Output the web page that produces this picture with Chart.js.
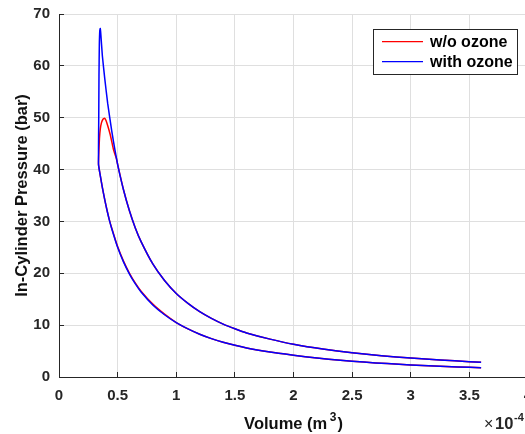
<!DOCTYPE html>
<html>
<head>
<meta charset="utf-8">
<script src="https://cdn.jsdelivr.net/npm/chart.js@4.4.1/dist/chart.umd.min.js"></script>
<style>
html,body{margin:0;padding:0;overflow:hidden;background:#fff;width:525px;height:434px}
#wrap{width:540px;height:434px}
canvas{display:block}
</style>
</head>
<body>
<div id="wrap"><canvas id="c" width="540" height="434"></canvas></div>
<script>
// ---- data (volume in units of 1e-4 m^3, pressure in bar) ----
const seriesNames = ['w/o ozone', 'with ozone'];
const seriesColors = ['#ff0000', '#0000ff'];
const xTickValues = [0, 0.5, 1, 1.5, 2, 2.5, 3, 3.5, 4];
const xTickLabels = ['0', '0.5', '1', '1.5', '2', '2.5', '3', '3.5', '4'];
const yTickValues = [0, 10, 20, 30, 40, 50, 60, 70];
const yTickLabels = ['0', '10', '20', '30', '40', '50', '60', '70'];
const xAxisTitleParts = ['Volume (m', '3', ')'];
const yAxisTitle = 'In-Cylinder Pressure (bar)';
const xExponentParts = ['\u00D7', '10', '-4'];

// w/o ozone (red)
const volWo = [3.6, 3.4, 3.2, 3.0, 2.8, 2.6, 2.4, 2.2, 2.0, 1.8, 1.6, 1.4, 1.3, 1.2, 1.1, 1.0, 0.9, 0.8, 0.7, 0.65, 0.6, 0.55, 0.5, 0.45, 0.43, 0.41, 0.39, 0.37, 0.35, 0.337,
  0.340, 0.345, 0.352, 0.362, 0.375, 0.388, 0.40, 0.415, 0.435, 0.45, 0.463, 0.475, 0.49, 0.5,
  0.55, 0.6, 0.65, 0.7, 0.8, 0.9, 1.0, 1.1, 1.2, 1.3, 1.4, 1.5, 1.6, 1.8, 2.0, 2.25, 2.5, 2.75, 3.0, 3.25, 3.5, 3.6];
const presWo = [1.79, 1.95, 2.13, 2.33, 2.58, 2.87, 3.22, 3.66, 4.2, 4.8, 5.6, 6.7, 7.4, 8.25, 9.28, 10.5, 12.12, 14.05, 16.55, 18.15, 20.05, 22.35, 25.15, 28.7, 30.25, 32.1, 34.2, 36.5, 39.1, 41.0,
  43.5, 46.0, 47.8, 49.0, 49.7, 49.9, 49.5, 48.5, 46.9, 45.4, 44.0, 43.1, 42.1, 41.0,
  36.1, 32.1, 28.8, 26.1, 21.8, 18.6, 16.1, 14.2, 12.6, 11.3, 10.2, 9.3, 8.5, 7.3, 6.3, 5.38, 4.68, 4.12, 3.65, 3.27, 2.96, 2.85];

// with ozone (blue)
const volWith = [3.6, 3.4, 3.2, 3.0, 2.8, 2.6, 2.4, 2.2, 2.0, 1.8, 1.6, 1.4, 1.3, 1.2, 1.1, 1.0, 0.9, 0.8, 0.7, 0.65, 0.6, 0.55, 0.5, 0.45, 0.43, 0.41, 0.39, 0.37, 0.35, 0.337,
  0.339, 0.341, 0.344, 0.348, 0.352, 0.357,
  0.37, 0.39, 0.415, 0.45, 0.5, 0.55, 0.6, 0.65, 0.7, 0.8, 0.9, 1.0, 1.1, 1.2, 1.3, 1.4, 1.5, 1.6, 1.8, 2.0, 2.25, 2.5, 2.75, 3.0, 3.25, 3.5, 3.6];
const presWith = [1.79, 1.95, 2.13, 2.33, 2.58, 2.87, 3.22, 3.66, 4.2, 4.8, 5.6, 6.7, 7.4, 8.25, 9.28, 10.5, 12.0, 13.9, 16.4, 18.0, 19.9, 22.2, 25.0, 28.6, 30.2, 32.1, 34.2, 36.5, 39.1, 41.0,
  50, 58, 64, 66.8, 67.2, 66.0,
  61.9, 57.6, 52.8, 47.4, 41.0, 36.1, 32.1, 28.8, 26.1, 21.8, 18.6, 16.1, 14.2, 12.6, 11.3, 10.2, 9.3, 8.5, 7.3, 6.3, 5.38, 4.68, 4.12, 3.65, 3.27, 2.96, 2.85];

const FONT = '"Liberation Sans", Arial, Helvetica, sans-serif';
const INK = '#262626';

function pts(v, p) { return v.map((x, i) => ({ x: x, y: p[i] })); }
function noPad(s) { s.paddingTop = 0; s.paddingBottom = 0; s.paddingLeft = 0; s.paddingRight = 0; }

const overlay = {
  id: 'overlay',
  afterDraw(chart) {
    const ctx = chart.ctx;
    const xs = chart.scales.x, ys = chart.scales.y;
    const a = chart.chartArea;
    const al = (p) => Math.round(p - 0.5) + 0.5;
    ctx.save();
    // inward tick marks
    ctx.strokeStyle = INK;
    ctx.lineWidth = 1;
    ctx.beginPath();
    xTickValues.forEach(v => {
      const px = al(xs.getPixelForValue(v));
      ctx.moveTo(px, a.bottom); ctx.lineTo(px, a.bottom - 5);
    });
    yTickValues.forEach(v => {
      const py = al(ys.getPixelForValue(v));
      ctx.moveTo(a.left, py); ctx.lineTo(a.left + 5, py);
    });
    ctx.stroke();

    // legend box
    const bx = 373.5, by = 29.5, bw = 144, bh = 45;
    ctx.fillStyle = '#ffffff';
    ctx.fillRect(bx, by, bw, bh);
    ctx.strokeStyle = INK;
    ctx.lineWidth = 1;
    ctx.strokeRect(bx, by, bw, bh);
    const rowY = [41.7, 61.7];
    seriesNames.forEach((name, i) => {
      ctx.strokeStyle = seriesColors[i];
      ctx.lineWidth = 1.3;
      ctx.beginPath();
      ctx.moveTo(382, rowY[i]); ctx.lineTo(423, rowY[i]);
      ctx.stroke();
      ctx.fillStyle = '#000000';
      ctx.font = 'bold 16px ' + FONT;
      ctx.textAlign = 'left';
      ctx.textBaseline = 'middle';
      ctx.fillText(name, 430, rowY[i] + 0.5);
    });

    // x axis title with superscript
    ctx.fillStyle = '#111111';
    ctx.textBaseline = 'alphabetic';
    ctx.textAlign = 'left';
    const fMain = 'bold 16.5px ' + FONT, fSup = 'bold 12px ' + FONT;
    ctx.font = fMain; const w0 = ctx.measureText(xAxisTitleParts[0]).width;
    ctx.font = fSup; const w1 = ctx.measureText(xAxisTitleParts[1]).width;
    ctx.font = fMain; const w2 = ctx.measureText(xAxisTitleParts[2]).width;
    const gap = 2.5;
    const total = w0 + gap + w1 + 1 + w2;
    let tx = (a.left + a.right) / 2 - total / 2;
    const base = 428.5;
    ctx.font = fMain; ctx.fillText(xAxisTitleParts[0], tx, base); tx += w0 + gap;
    ctx.font = fSup; ctx.fillText(xAxisTitleParts[1], tx, base - 8); tx += w1 + 1;
    ctx.font = fMain; ctx.fillText(xAxisTitleParts[2], tx, base);

    // exponent label  x10^-4
    ctx.fillStyle = INK;
    ctx.font = '16px ' + FONT;
    ctx.fillText(xExponentParts[0], 484, 429);
    ctx.font = 'bold 16.5px ' + FONT;
    ctx.fillText(xExponentParts[1], 495, 429);
    ctx.font = 'bold 11px ' + FONT;
    ctx.fillText(xExponentParts[2], 514, 421);
    ctx.restore();
  }
};

new Chart(document.getElementById('c'), {
  type: 'line',
  data: {
    datasets: [
      { label: seriesNames[0], data: pts(volWo, presWo), borderColor: seriesColors[0], borderWidth: 1.5,
        pointRadius: 0, fill: false, tension: 0.15, order: 2 },
      { label: seriesNames[1], data: pts(volWith, presWith), borderColor: seriesColors[1], borderWidth: 1.5,
        pointRadius: 0, fill: false, tension: 0.15, order: 1 }
    ]
  },
  options: {
    responsive: false,
    animation: false,
    events: [],
    layout: { padding: { top: 14, right: 12, bottom: 0, left: 0 } },
    plugins: { legend: { display: false }, tooltip: { enabled: false } },
    scales: {
      x: {
        type: 'linear', min: 0, max: 4,
        afterFit: (s) => { s.height = 57; noPad(s); },
        afterBuildTicks: (s) => { s.ticks = xTickValues.map(v => ({ value: v })); },
        ticks: {
          autoSkip: false, maxRotation: 0, padding: 10, color: INK,
          font: { family: FONT, size: 15, weight: 'bold' },
          callback: (v, i) => xTickLabels[i]
        },
        grid: { color: '#dfdfdf', lineWidth: 1, drawTicks: false },
        border: { display: true, color: INK, width: 1 },
        title: { display: false }
      },
      y: {
        type: 'linear', min: 0, max: 70,
        afterFit: (s) => { s.width = 59; noPad(s); },
        afterBuildTicks: (s) => { s.ticks = yTickValues.map(v => ({ value: v })); },
        ticks: {
          autoSkip: false, padding: 9, color: INK,
          font: { family: FONT, size: 15, weight: 'bold' },
          callback: (v, i) => yTickLabels[i]
        },
        grid: { color: '#dfdfdf', lineWidth: 1, drawTicks: false },
        border: { display: true, color: INK, width: 1 },
        title: { display: true, text: yAxisTitle, color: '#111111',
          font: { family: FONT, size: 16.5, weight: 'bold' }, padding: { top: 13, bottom: 0 } }
      }
    }
  },
  plugins: [overlay]
});
</script>
</body>
</html>
